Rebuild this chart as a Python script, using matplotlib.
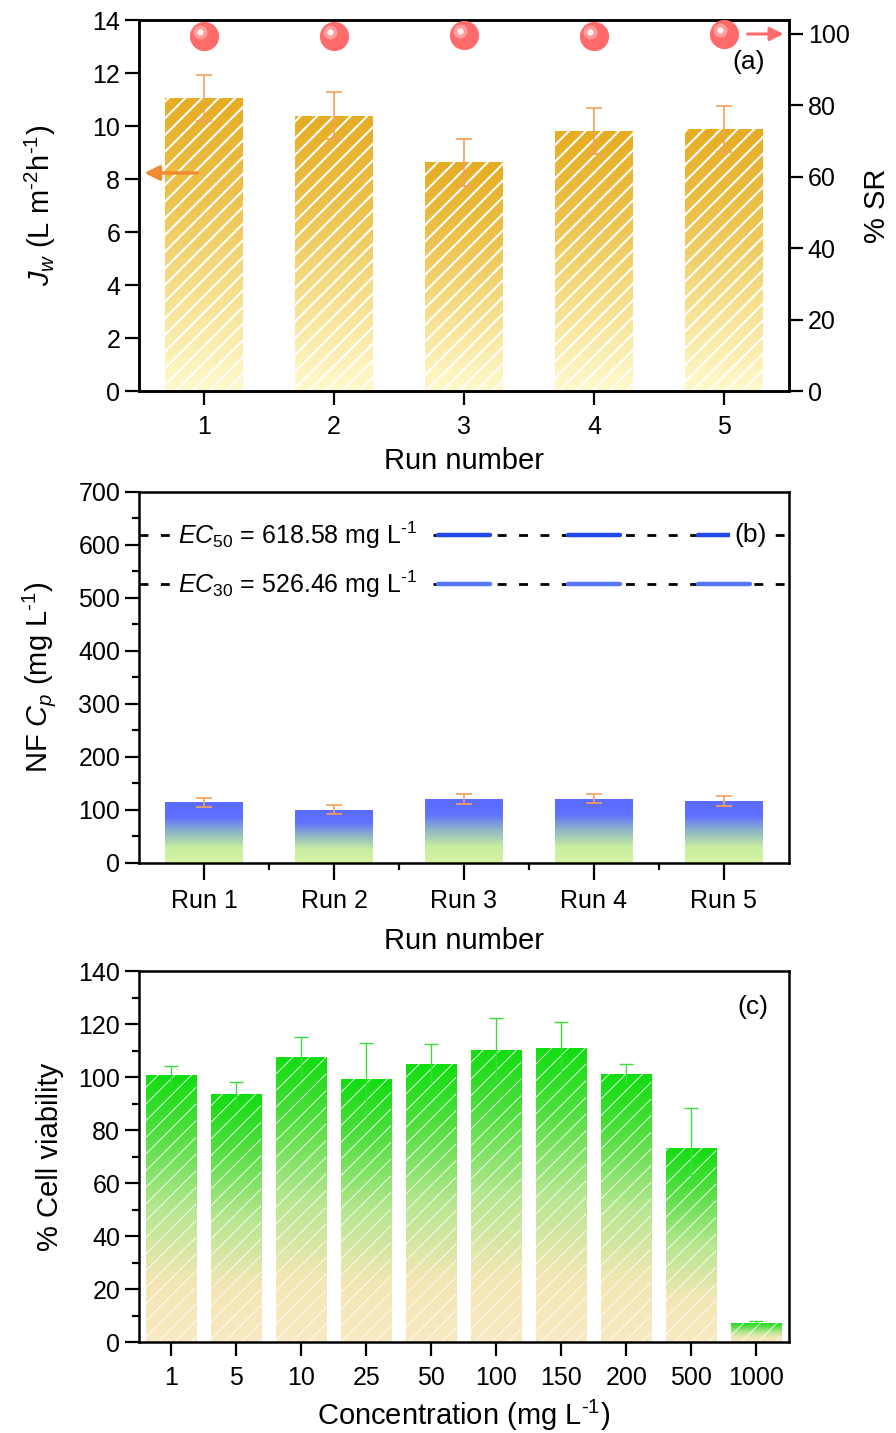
import numpy as np
import matplotlib
matplotlib.use('Agg')
import matplotlib.pyplot as plt
from matplotlib.colors import LinearSegmentedColormap
from matplotlib.transforms import ScaledTranslation

plt.rcParams['font.family'] = ['Liberation Sans', 'DejaVu Sans']
plt.rcParams['mathtext.fontset'] = 'custom'
plt.rcParams['mathtext.rm'] = 'Liberation Sans'
plt.rcParams['mathtext.it'] = 'Liberation Sans:italic'
plt.rcParams['axes.unicode_minus'] = False

# (a) water flux and salt rejection per run
runs = [1, 2, 3, 4, 5]
flux = [11.06, 10.39, 8.63, 9.80, 9.90]
flux_err = [0.87, 0.88, 0.88, 0.87, 0.87]
salt_rej = [99.3, 99.5, 99.8, 99.3, 99.9]

# (b) NF permeate concentration
run_labels = ['Run 1', 'Run 2', 'Run 3', 'Run 4', 'Run 5']
cp = [114.5, 100.7, 120.9, 121.4, 117.1]
cp_err = [8.8, 8.5, 8.8, 8.2, 8.8]
ec50 = 618.58
ec30 = 526.46

# (c) cell viability vs concentration
conc_labels = ['1', '5', '10', '25', '50', '100', '150', '200', '500', '1000']
viability = [100.7, 93.5, 107.5, 99.1, 105.0, 110.2, 110.9, 101.1, 73.3, 7.3]
viability_err = [3.5, 4.5, 7.5, 13.7, 7.5, 12.2, 9.8, 3.9, 15.0, 0.8]

cmap_a = LinearSegmentedColormap.from_list('a', ['#FFF9CC', '#F6E08E', '#EDC24C', '#E6AC22'])
cmap_b = LinearSegmentedColormap.from_list('b', ['#D6F4A6', '#C8EEA0', '#8FB8C4', '#5F72FF', '#5A6AFF'])
cmap_c = LinearSegmentedColormap.from_list('c', [(0, '#F8EAC2'), (0.22, '#F3E6B4'),
                                                 (0.5, '#B6E690'), (0.8, '#4CDD3C'), (1, '#10DD10')])

SUP = r'$^{\text{-1}}$'


def gradient_bars(ax, x, heights, width, cmap, hatch=None, hatch_lw=1.0):
    bars = ax.bar(x, heights, width, facecolor='none', edgecolor='none', linewidth=0, zorder=2)
    grad = np.linspace(0, 1, 256).reshape(-1, 1)
    for b in bars:
        x0, w, h = b.get_x(), b.get_width(), b.get_height()
        im = ax.imshow(grad, cmap=cmap, origin='lower', aspect='auto',
                       extent=[x0, x0 + w, 0, h], zorder=1, interpolation='bilinear')
        im.set_clip_path(b)
    if hatch:
        over = ax.bar(x, heights, width, facecolor='none', edgecolor='white',
                      linewidth=0, hatch=hatch, zorder=2)
        for p in over:
            if hasattr(p, 'set_hatch_linewidth'):
                p.set_hatch_linewidth(hatch_lw)
    return bars


def style_axes(ax):
    for s in ax.spines.values():
        s.set_linewidth(1.8)
    ax.tick_params(which='major', direction='out', length=10, width=1.6, labelsize=18)
    ax.tick_params(which='minor', direction='out', length=5, width=1.6)
    ax.tick_params(axis='x', pad=7)


fig = plt.figure(figsize=(8.96, 14.33), dpi=100)

# ---------------- (a)
ax1 = fig.add_axes([0.1551, 0.7271, 0.7254, 0.2589])
gradient_bars(ax1, runs, flux, 0.6, cmap_a, hatch='//', hatch_lw=1.5)
ax1.errorbar(runs, flux, yerr=flux_err, fmt='none', ecolor='#F5A05A', elinewidth=1.2,
             capsize=6, capthick=1.2, zorder=3)
ax1.set_xlim(0.5, 5.5)
ax1.set_ylim(0, 14)
ax1.set_xticks(runs)
ax1.set_yticks(range(0, 15, 2))
style_axes(ax1)
ax1.set_xlabel('Run number', fontsize=21, labelpad=6)
ax1.set_ylabel(r'$J_w$ (L m$^{\text{-2}}$h' + SUP + ')', fontsize=21)
ax1.yaxis.set_label_coords(-0.125, 0.5)
ax1.text(0.938, 0.887, '(a)', transform=ax1.transAxes, fontsize=19, ha='center', va='center')
ax1.annotate('', xy=(0.52, 8.23), xytext=(0.97, 8.23),
             arrowprops=dict(arrowstyle='-|>', color='#F28A32', lw=2.5, mutation_scale=22))

axr = ax1.twinx()
axr.set_ylim(0, 103.9)
axr.set_yticks(range(0, 101, 20))
style_axes(axr)
axr.set_ylabel('% SR', fontsize=21, labelpad=10)
axr.plot(runs, salt_rej, 'o', ms=21, color='#FF6A6A', mec='none', zorder=5)
off = ScaledTranslation(-0.04, 0.04, fig.dpi_scale_trans)
axr.plot(runs, salt_rej, 'o', ms=10, color='#FF9E9E', mec='none', zorder=6,
         transform=axr.transData + off)
axr.plot(runs, salt_rej, 'o', ms=4.5, color='#FFF0F0', mec='none', zorder=7,
         transform=axr.transData + off)
axr.annotate('', xy=(5.48, 100), xytext=(5.16, 100),
             arrowprops=dict(arrowstyle='-|>', color='#FF6A6A', lw=2.2, mutation_scale=20))

# ---------------- (b)
ax2 = fig.add_axes([0.1551, 0.3978, 0.7254, 0.2589])
x2 = np.arange(1, 6)
gradient_bars(ax2, x2, cp, 0.6, cmap_b)
ax2.errorbar(x2, cp, yerr=cp_err, fmt='none', ecolor='#F5A05A', elinewidth=1.2,
             capsize=6, capthick=1.2, zorder=3)
ax2.set_xlim(0.5, 5.5)
ax2.set_ylim(0, 700)
ax2.set_xticks(x2)
ax2.set_xticklabels(run_labels)
ax2.set_xticks(x2[:-1] + 0.5, minor=True)
ax2.set_yticks(range(0, 701, 100))
ax2.set_yticks(range(50, 700, 100), minor=True)
style_axes(ax2)
ax2.tick_params(axis='x', which='major', length=12)
ax2.set_xlabel('Run number', fontsize=21, labelpad=10)
ax2.set_ylabel(r'NF $C_p$ (mg L' + SUP + ')', fontsize=21)
ax2.yaxis.set_label_coords(-0.125, 0.5)

for val, name, blue in [(ec50, '50', '#2348F0'), (ec30, '30', '#5577FF')]:
    ax2.plot([0.5, 0.78], [val, val], color='black', lw=2, ls=(0, (3.2, 4.5)), zorder=3)
    ax2.plot([2.76, 5.5], [val, val], color='black', lw=2, ls=(0, (3.2, 4.5)), zorder=3)
    for r in x2[2:]:
        ax2.plot([r - 0.2, r + 0.2], [val, val], color=blue, lw=3.2,
                 solid_capstyle='round', zorder=4)
    ax2.text(0.8, val, r'$\mathit{EC}_{\mathit{' + name + r'}}$ = ' + f'{val:.2f}' + ' mg L' + SUP,
             fontsize=18, ha='left', va='center', zorder=5)
ax2.text(0.941, ec50, '(b)', transform=ax2.get_yaxis_transform(), fontsize=19,
         ha='center', va='center', zorder=6,
         bbox=dict(boxstyle='square,pad=0.15', fc='white', ec='none'))

# ---------------- (c)
ax3 = fig.add_axes([0.1551, 0.0635, 0.7254, 0.2589])
x3 = np.arange(1, 11)
gradient_bars(ax3, x3, viability, 0.77, cmap_c, hatch='//', hatch_lw=0.6)
eb = ax3.errorbar(x3, viability, yerr=viability_err, fmt='none', ecolor='#3CDC3C',
                  elinewidth=1.0, capsize=5, capthick=1.0, zorder=3)
eb[1][0].set_visible(False)
ax3.set_xlim(0.5, 10.5)
ax3.set_ylim(0, 140)
ax3.set_xticks(x3)
ax3.set_xticklabels(conc_labels)
ax3.set_yticks(range(0, 141, 20))
ax3.set_yticks(range(10, 140, 20), minor=True)
style_axes(ax3)
ax3.set_xlabel('Concentration (mg L' + SUP + ')', fontsize=21, labelpad=6)
ax3.set_ylabel('% Cell viability', fontsize=21)
ax3.yaxis.set_label_coords(-0.115, 0.5)
ax3.text(0.944, 0.903, '(c)', transform=ax3.transAxes, fontsize=19, ha='center', va='center')

fig.savefig('out.png', dpi=100)
